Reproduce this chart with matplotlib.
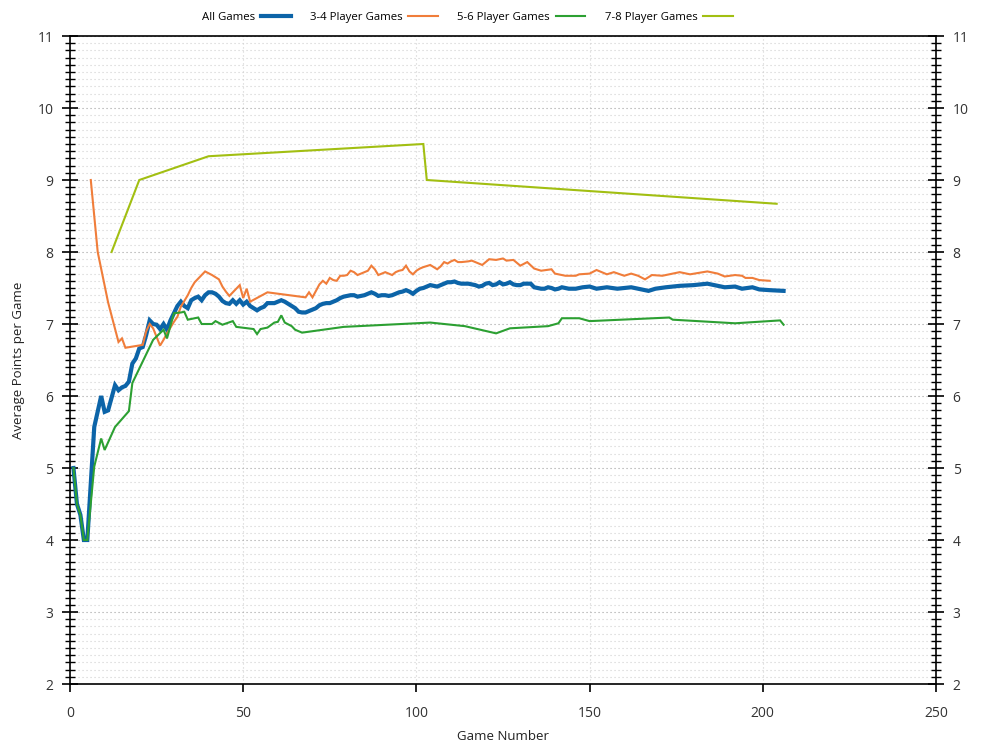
# coding=utf-8
"""
Puntos promedio por partida segun numero de partida.
"""

import matplotlib
matplotlib.use('Agg')
import matplotlib.pyplot as plt
from matplotlib.ticker import MultipleLocator

plt.rcParams['font.family'] = ['Open Sans', 'DejaVu Sans']

# Datos
all_x = [1, 2, 3, 4, 5, 7, 9, 10, 11, 13, 14, 15, 16, 17, 18, 19, 20, 21, 22, 23,
         24, 25, 26, 27, 28, 29, 30, 31, 32, 33, 34, 35, 36, 37, 38, 39, 40, 41, 42,
         43, 44, 45, 46, 47, 48, 49, 50, 51, 52, 53, 54, 55, 56, 57, 58, 59, 60, 61,
         62, 63, 64, 65, 66, 67, 68, 69, 70, 71, 72, 73, 74, 75, 76, 77, 78, 79, 80,
         81, 82, 83, 84, 85, 86, 87, 88, 89, 90, 91, 92, 93, 94, 95, 96, 97, 98, 99,
         100, 101, 102, 103, 104, 105, 106, 107, 108, 109, 110, 111, 112, 113, 114,
         115, 116, 117, 118, 119, 120, 121, 122, 123, 124, 125, 126, 127, 128, 129,
         130, 131, 132, 133, 134, 135, 136, 137, 138, 139, 140, 141, 142, 143, 144,
         146, 148, 150, 152, 155, 158, 162, 165, 167, 169, 172, 176, 180, 184, 186,
         189, 192, 194, 197, 199, 202, 206]
all_y = [5.0, 4.5, 4.35, 4.0, 4.0, 5.57, 6.0, 5.78, 5.8, 6.15, 6.08, 6.12, 6.14, 6.2,
         6.45, 6.52, 6.66, 6.68, 6.85, 7.05, 7.0, 6.99, 6.93, 7.0, 6.92, 7.05, 7.15,
         7.25, 7.31, 7.25, 7.22, 7.33, 7.36, 7.38, 7.33, 7.4, 7.44, 7.44, 7.42, 7.38,
         7.32, 7.29, 7.28, 7.33, 7.28, 7.33, 7.27, 7.31, 7.25, 7.22, 7.19, 7.22, 7.24,
         7.29, 7.29, 7.29, 7.31, 7.33, 7.31, 7.28, 7.25, 7.22, 7.17, 7.16, 7.16, 7.18,
         7.2, 7.22, 7.26, 7.28, 7.29, 7.29, 7.31, 7.33, 7.36, 7.38, 7.39, 7.4, 7.4,
         7.38, 7.39, 7.4, 7.42, 7.44, 7.42, 7.39, 7.4, 7.4, 7.39, 7.4, 7.42, 7.44,
         7.45, 7.47, 7.45, 7.42, 7.46, 7.49, 7.5, 7.52, 7.54, 7.53, 7.52, 7.54, 7.56,
         7.58, 7.58, 7.59, 7.57, 7.56, 7.56, 7.56, 7.55, 7.54, 7.52, 7.53, 7.56, 7.57,
         7.54, 7.55, 7.58, 7.55, 7.56, 7.58, 7.55, 7.54, 7.54, 7.56, 7.56, 7.56, 7.51,
         7.5, 7.49, 7.49, 7.51, 7.5, 7.48, 7.49, 7.51, 7.5, 7.49, 7.49, 7.51, 7.52,
         7.49, 7.51, 7.49, 7.51, 7.48, 7.46, 7.49, 7.51, 7.53, 7.54, 7.56, 7.54, 7.51,
         7.52, 7.49, 7.51, 7.48, 7.47, 7.46]

p34_x = [6, 8, 11, 14, 15, 16, 21, 22, 23, 24, 25, 26, 27, 28, 29, 30, 31, 32, 33,
         34, 35, 36, 37, 38, 39, 41, 43, 44, 45, 46, 47, 48, 49, 50, 51, 52, 57, 68,
         69, 70, 71, 72, 73, 74, 75, 76, 77, 78, 79, 80, 81, 82, 83, 84, 85, 86, 87,
         88, 89, 90, 91, 92, 93, 94, 95, 96, 97, 98, 99, 100, 101, 102, 104, 106,
         107, 108, 109, 110, 111, 112, 113, 115, 116, 117, 119, 120, 121, 123, 125,
         126, 128, 130, 132, 134, 136, 139, 140, 143, 146, 147, 150, 152, 155, 157,
         160, 162, 164, 166, 168, 171, 176, 179, 184, 187, 189, 192, 194, 195, 197,
         199, 202]
p34_y = [9.0, 8.0, 7.3, 6.75, 6.8, 6.67, 6.71, 6.9, 7.0, 6.94, 6.82, 6.7, 6.78, 6.87,
         6.95, 7.03, 7.1, 7.24, 7.32, 7.4, 7.5, 7.58, 7.63, 7.68, 7.73, 7.68, 7.62,
         7.52, 7.45, 7.39, 7.44, 7.49, 7.54, 7.36, 7.49, 7.31, 7.44, 7.37, 7.44, 7.37,
         7.46, 7.55, 7.6, 7.56, 7.64, 7.61, 7.6, 7.67, 7.67, 7.68, 7.74, 7.72, 7.68,
         7.7, 7.72, 7.74, 7.81, 7.76, 7.68, 7.7, 7.72, 7.7, 7.68, 7.72, 7.74, 7.75,
         7.81, 7.73, 7.69, 7.74, 7.77, 7.79, 7.82, 7.76, 7.8, 7.86, 7.84, 7.87, 7.89,
         7.86, 7.86, 7.87, 7.88, 7.86, 7.82, 7.86, 7.9, 7.89, 7.91, 7.88, 7.89, 7.81,
         7.86, 7.77, 7.74, 7.76, 7.7, 7.67, 7.67, 7.69, 7.7, 7.75, 7.69, 7.72, 7.67,
         7.7, 7.67, 7.62, 7.68, 7.67, 7.72, 7.69, 7.73, 7.7, 7.66, 7.68, 7.67, 7.64,
         7.64, 7.61, 7.6]

p56_x = [1, 2, 3, 4, 5, 7, 9, 10, 13, 17, 18, 21, 24, 27, 28, 30, 32, 33, 34, 37,
         38, 41, 42, 44, 47, 48, 53, 54, 55, 57, 59, 60, 61, 62, 64, 65, 67, 79, 104,
         114, 123, 127, 138, 141, 142, 147, 150, 173, 174, 192, 205, 206]
p56_y = [5.0, 4.5, 4.35, 4.0, 4.0, 5.02, 5.41, 5.25, 5.57, 5.79, 6.18, 6.48, 6.78,
         6.92, 6.8, 7.15, 7.16, 7.17, 7.06, 7.09, 7.0, 7.0, 7.04, 6.99, 7.04, 6.96,
         6.93, 6.86, 6.93, 6.95, 7.02, 7.03, 7.12, 7.02, 6.97, 6.92, 6.88, 6.96, 7.02,
         6.97, 6.87, 6.94, 6.97, 7.01, 7.08, 7.08, 7.04, 7.09, 7.06, 7.01, 7.05, 6.99]

p78_x = [12, 20, 40, 102, 103, 204]
p78_y = [8.0, 9.0, 9.33, 9.5, 9.0, 8.67]

series = [
    ('All Games', all_x, all_y, '#0c64a8', 3.0),
    ('3-4 Player Games', p34_x, p34_y, '#f07d3a', 1.5),
    ('5-6 Player Games', p56_x, p56_y, '#2ca032', 1.5),
    ('7-8 Player Games', p78_x, p78_y, '#a2bf12', 1.5),
]

fig = plt.figure(figsize=(10, 7.5), dpi=100)
ax = fig.add_axes([0.07, 0.088, 0.866, 0.864])

for name, xs, ys, col, lw in series:
    ax.plot(xs, ys, color=col, lw=lw, label=name, solid_joinstyle='miter')

ax.set_xlim(0, 250)
ax.set_ylim(2, 11)
ax.xaxis.set_major_locator(MultipleLocator(50))
ax.yaxis.set_major_locator(MultipleLocator(1))
ax.yaxis.set_minor_locator(MultipleLocator(0.1))

# Rejilla punteada
ax.grid(which='minor', axis='y', color='#d0d0d0', lw=0.8, linestyle=(0, (1, 2.6)))
ax.grid(which='major', axis='y', color='#a0a0a0', lw=0.8, linestyle=(0, (1, 2.6)))
ax.grid(which='major', axis='x', color='#d0d0d0', lw=0.8, linestyle=(0, (1, 2.6)))
ax.set_axisbelow(True)

for s in ax.spines.values():
    s.set_linewidth(1.2)
    s.set_color('black')

ax.tick_params(axis='y', which='major', direction='inout', length=12, width=1.2,
               right=True, labelright=True, labelsize=10, labelcolor='#333333', pad=6)
ax.tick_params(axis='y', which='minor', direction='inout', length=7, width=1.0, right=True)
ax.tick_params(axis='x', which='major', direction='out', length=6, width=1.2,
               labelsize=10, labelcolor='#333333', pad=10)

ax.set_xlabel('Game Number', fontsize=9.5, color='#222222', labelpad=6)
ax.set_ylabel('Average Points per Game', fontsize=9.5, color='#222222', labelpad=9)

fig.legend(loc='center', bbox_to_anchor=(0.4675, 0.977), ncol=4, frameon=False,
           markerfirst=False, fontsize=8.2, handlelength=2.6, handletextpad=0.5,
           columnspacing=1.7)

fig.savefig('out.png', dpi=100)
